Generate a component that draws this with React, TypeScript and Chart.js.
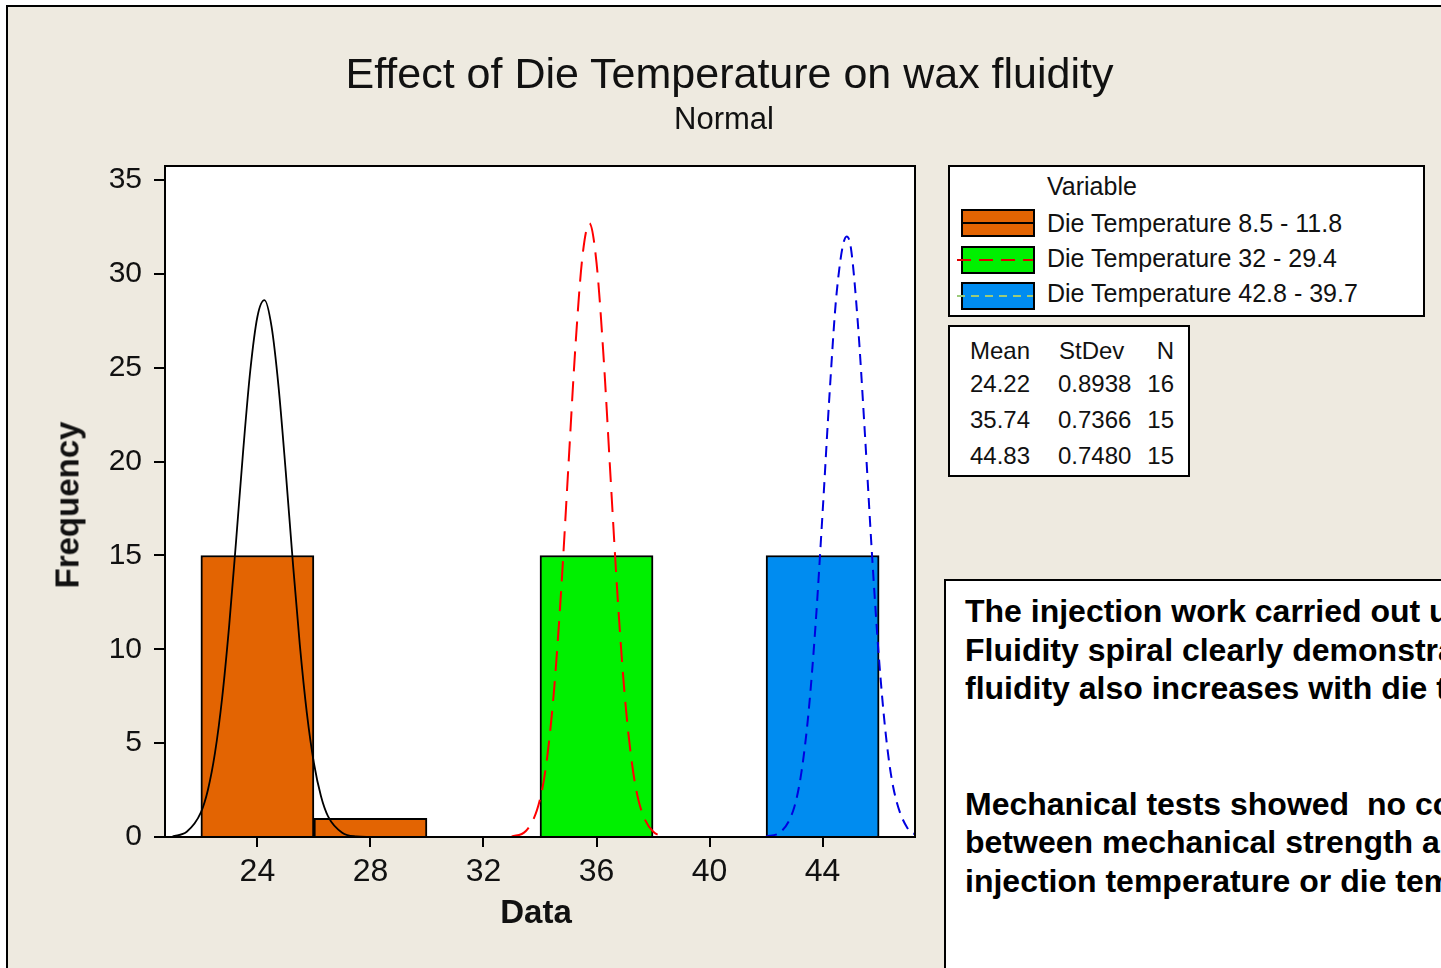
import React, { useEffect, useRef } from "react";
import { Chart, registerables } from "chart.js";

Chart.register(...registerables);

// ---- data ----
const BIN_CENTERS = [24, 28, 36, 44];
const BIN_COUNTS = [15, 1, 15, 15];
const BIN_COLORS = ["#E36402", "#E36402", "#00F000", "#008CF0"];

const CURVE1_X = [21.0, 21.5, 22.0, 22.25, 22.5, 22.75, 23.0, 23.25, 23.5, 23.75, 24.0, 24.25, 24.5, 24.75, 25.0, 25.25, 25.5, 25.75, 26.0, 26.25, 26.5, 27.0, 27.5, 28.0];
const CURVE1_Y = [0.04, 0.28, 1.31, 2.52, 4.49, 7.38, 11.25, 15.86, 20.65, 24.88, 27.72, 28.6, 27.2, 23.96, 19.52, 14.71, 10.25, 6.6, 3.93, 2.17, 1.1, 0.23, 0.03, 0.0];

const CURVE2_X = [33.0, 33.5, 34.0, 34.25, 34.5, 34.75, 35.0, 35.25, 35.5, 35.75, 36.0, 36.25, 36.5, 36.75, 37.0, 37.25, 37.5, 38.0, 38.5];
const CURVE2_Y = [0.03, 0.32, 2.0, 4.2, 7.88, 13.17, 19.62, 26.05, 30.9, 32.7, 30.6, 25.57, 19.08, 12.7, 7.52, 3.97, 1.87, 0.29, 0.03];

const CURVE3_X = [42.0, 42.5, 43.0, 43.25, 43.5, 43.75, 44.0, 44.25, 44.5, 44.85, 45.0, 45.25, 45.5, 45.75, 46.0, 46.25, 46.5, 47.0, 47.5];
const CURVE3_Y = [0.03, 0.25, 1.6, 3.44, 6.59, 11.28, 17.28, 23.69, 29.03, 32.0, 31.4, 27.33, 21.42, 15.02, 9.42, 5.28, 2.65, 0.48, 0.05];

const X_TICKS = [24, 28, 32, 36, 40, 44];
const Y_TICKS = [0, 5, 10, 15, 20, 25, 30, 35];

const TITLE = "Effect of Die Temperature on wax fluidity";
const SUBTITLE = "Normal";
const X_TITLE = "Data";
const Y_TITLE = "Frequency";

const LEGEND_TITLE = "Variable";
const SERIES_NAMES = ["Die Temperature 8.5 - 11.8", "Die Temperature 32 - 29.4", "Die Temperature 42.8 - 39.7"];
const STAT_HEADERS = ["Mean", "StDev", "N"];
const MEANS = ["24.22", "35.74", "44.83"];
const STDEVS = ["0.8938", "0.7366", "0.7480"];
const NS = ["16", "15", "15"];

const NOTE_LINES = [
  "The injection work carried out using the",
  "Fluidity spiral clearly demonstrates that",
  "fluidity also increases with die temperature.",
  "",
  "",
  "Mechanical tests showed  no correlation",
  "between mechanical strength and",
  "injection temperature or die temperature.",
];

const FONT = "'Liberation Sans', Arial, sans-serif";

function Txt(props: {
  x: number;
  y: number;
  size: number;
  bold?: boolean;
  anchor?: "start" | "middle" | "end";
  children: React.ReactNode;
}) {
  const { x, y, size, bold, anchor = "start", children } = props;
  const tx = anchor === "middle" ? "translateX(-50%)" : anchor === "end" ? "translateX(-100%)" : "none";
  return (
    <div
      style={{
        position: "absolute",
        left: x,
        top: y - 0.8465 * size,
        fontSize: size,
        lineHeight: `${size}px`,
        fontFamily: FONT,
        fontWeight: bold ? 700 : 400,
        color: "#111",
        whiteSpace: "pre",
        transform: tx,
      }}
    >
      {children}
    </div>
  );
}

function Swatch(props: { top: number; fill: string; line: string; dash: number[] | null }) {
  const { top, fill, line, dash } = props;
  const bg = dash
    ? `repeating-linear-gradient(90deg, ${line} 0 ${dash[0]}px, transparent ${dash[0]}px ${dash[0] + dash[1]}px)`
    : line;
  return (
    <div
      style={{
        position: "absolute",
        left: 961,
        top,
        width: 74,
        height: 28,
        boxSizing: "border-box",
        border: "2px solid #000",
        background: fill,
      }}
    >
      <div style={{ position: "absolute", left: dash ? -6 : 0, right: 0, top: 11, height: 2, background: bg }} />
    </div>
  );
}

const framePlugin = {
  id: "frame",
  beforeDraw(chart: any) {
    const { ctx, chartArea: a } = chart;
    ctx.save();
    ctx.fillStyle = "#ffffff";
    ctx.fillRect(a.left, a.top, a.right - a.left, a.bottom - a.top);
    ctx.restore();
  },
  afterDraw(chart: any) {
    const { ctx, chartArea: a } = chart;
    ctx.save();
    ctx.strokeStyle = "#000";
    ctx.lineWidth = 2;
    ctx.strokeRect(a.left, a.top, a.right - a.left, a.bottom - a.top);
    ctx.restore();
  },
};

export default function App() {
  const ref = useRef<HTMLCanvasElement | null>(null);

  useEffect(() => {
    if (!ref.current) return;
    const toPts = (xs: number[], ys: number[]) => xs.map((x, i) => ({ x, y: ys[i] }));
    const chart = new Chart(ref.current, {
      type: "line",
      data: {
        datasets: [
          {
            type: "line",
            label: SERIES_NAMES[0],
            data: toPts(CURVE1_X, CURVE1_Y),
            borderColor: "#000000",
            borderWidth: 1.8,
            pointRadius: 0,
            cubicInterpolationMode: "monotone",
            fill: false,
            order: 1,
          },
          {
            type: "line",
            label: SERIES_NAMES[1],
            data: toPts(CURVE2_X, CURVE2_Y),
            borderColor: "#FF0000",
            borderWidth: 2,
            borderDash: [20, 10],
            pointRadius: 0,
            cubicInterpolationMode: "monotone",
            fill: false,
            order: 1,
          },
          {
            type: "line",
            label: SERIES_NAMES[2],
            data: toPts(CURVE3_X, CURVE3_Y),
            borderColor: "#0000E0",
            borderWidth: 2,
            borderDash: [11, 7],
            pointRadius: 0,
            cubicInterpolationMode: "monotone",
            fill: false,
            order: 1,
          },
          {
            type: "bar",
            label: "bins",
            data: BIN_CENTERS.map((x, i) => ({ x, y: BIN_COUNTS[i] })),
            backgroundColor: BIN_COLORS,
            borderColor: "#000000",
            borderWidth: 2,
            barPercentage: 1,
            categoryPercentage: 1,
            order: 2,
          } as any,
        ],
      },
      options: {
        responsive: false,
        animation: false,
        devicePixelRatio: 1,
        layout: { padding: { left: 0, top: 166, right: 526, bottom: 0 } },
        plugins: { legend: { display: false }, tooltip: { enabled: false }, title: { display: false } },
        scales: {
          x: {
            type: "linear",
            min: 20.73,
            max: 47.27,
            offset: false,
            afterBuildTicks: (s: any) => {
              s.ticks = X_TICKS.map((v) => ({ value: v }));
            },
            afterFit: (s: any) => {
              s.height = 131;
            },
            ticks: { font: { family: "Liberation Sans", size: 32 }, color: "#111", padding: 6, maxRotation: 0 },
            grid: { offset: false, drawOnChartArea: false, drawTicks: true, tickLength: 10, color: "#000", lineWidth: 2 },
            border: { display: false },
          },
          y: {
            type: "linear",
            min: 0,
            max: 35.75,
            afterBuildTicks: (s: any) => {
              s.ticks = Y_TICKS.map((v) => ({ value: v }));
            },
            afterFit: (s: any) => {
              s.width = 165;
            },
            ticks: { font: { family: "Liberation Sans", size: 30 }, color: "#111", padding: 12 },
            grid: { drawOnChartArea: false, drawTicks: true, tickLength: 11, color: "#000", lineWidth: 2 },
            border: { display: false },
          },
        },
      } as any,
      plugins: [framePlugin],
    });
    return () => chart.destroy();
  }, []);

  return (
    <div style={{ position: "fixed", left: 0, top: 0, width: 1441, height: 968, overflow: "hidden", background: "#fff" }}>
      <div
        style={{
          position: "absolute",
          left: 6,
          top: 5,
          width: 1500,
          height: 1000,
          background: "#EEEAE0",
          border: "2px solid #000",
        }}
      />
      <canvas ref={ref} width={1441} height={968} style={{ position: "absolute", left: 0, top: 0 }} />

      <Txt x={729.5} y={88} size={43} anchor="middle">{TITLE}</Txt>
      <Txt x={724} y={129} size={31} anchor="middle">{SUBTITLE}</Txt>
      <Txt x={536} y={923} size={33} bold anchor="middle">{X_TITLE}</Txt>
      <div
        style={{
          position: "absolute",
          left: 67,
          top: 505,
          fontSize: 33,
          lineHeight: "33px",
          fontFamily: FONT,
          fontWeight: 700,
          color: "#111",
          whiteSpace: "pre",
          transform: "translate(-50%, -50%) rotate(-90deg)",
        }}
      >
        {Y_TITLE}
      </div>

      {/* legend */}
      <div
        style={{
          position: "absolute",
          left: 948,
          top: 165,
          width: 477,
          height: 152,
          boxSizing: "border-box",
          border: "2px solid #000",
          background: "#fff",
        }}
      />
      <Txt x={1047} y={195} size={25}>{LEGEND_TITLE}</Txt>
      <Swatch top={209} fill={BIN_COLORS[0]} line="#000" dash={null} />
      <Swatch top={246} fill={BIN_COLORS[2]} line="#E00000" dash={[14, 8]} />
      <Swatch top={282} fill={BIN_COLORS[3]} line="#9CCB7A" dash={[8, 6]} />
      <Txt x={1047} y={232} size={25}>{SERIES_NAMES[0]}</Txt>
      <Txt x={1047} y={267} size={25}>{SERIES_NAMES[1]}</Txt>
      <Txt x={1047} y={302} size={25}>{SERIES_NAMES[2]}</Txt>

      {/* stats table */}
      <div
        style={{
          position: "absolute",
          left: 948,
          top: 325,
          width: 242,
          height: 152,
          boxSizing: "border-box",
          border: "2px solid #000",
          background: "#fff",
        }}
      />
      <Txt x={970} y={359} size={24}>{STAT_HEADERS[0]}</Txt>
      <Txt x={1059} y={359} size={24}>{STAT_HEADERS[1]}</Txt>
      <Txt x={1174} y={359} size={24} anchor="end">{STAT_HEADERS[2]}</Txt>
      {MEANS.map((m, i) => (
        <React.Fragment key={i}>
          <Txt x={970} y={392 + i * 36} size={24}>{m}</Txt>
          <Txt x={1058} y={392 + i * 36} size={24}>{STDEVS[i]}</Txt>
          <Txt x={1174} y={392 + i * 36} size={24} anchor="end">{NS[i]}</Txt>
        </React.Fragment>
      ))}

      {/* note box */}
      <div
        style={{
          position: "absolute",
          left: 944,
          top: 579,
          width: 620,
          height: 500,
          boxSizing: "border-box",
          border: "2px solid #000",
          background: "#fff",
          overflow: "hidden",
          paddingLeft: 19,
          paddingTop: 11,
        }}
      >
        {NOTE_LINES.map((l, i) => (
          <div
            key={i}
            style={{
              fontFamily: FONT,
              fontWeight: 700,
              fontSize: 32,
              lineHeight: "38.5px",
              height: 38.5,
              color: "#000",
              whiteSpace: "pre",
            }}
          >
            {l}
          </div>
        ))}
      </div>
    </div>
  );
}
